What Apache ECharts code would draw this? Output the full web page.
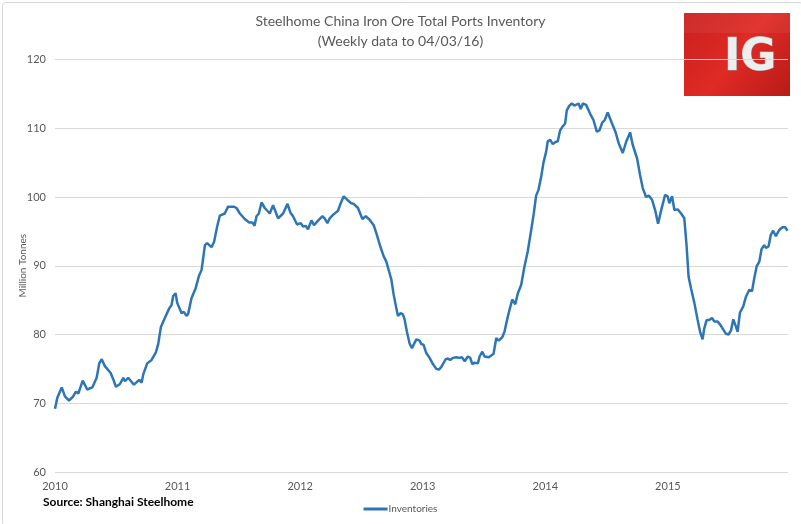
<!DOCTYPE html>
<html>
<head>
<meta charset="utf-8">
<script src="https://cdn.jsdelivr.net/npm/echarts@6/dist/echarts.min.js"></script>
<style>
html,body{margin:0;padding:0;background:#fff;}
#chart{width:801px;height:524px;}
</style>
</head>
<body>
<div id="chart"></div>
<script>
// Time in fractional years since 2010 (weekly series)
const dates = [0,0.019,0.055,0.081,0.114,0.144,0.171,0.190,0.226,0.263,0.304,0.340,0.361,0.381,0.407,0.454,0.475,0.497,0.530,0.557,0.570,0.597,0.644,0.687,0.707,0.720,0.752,0.788,0.823,0.842,0.864,0.896,0.932,0.951,0.964,0.984,0.997,1.013,1.033,1.051,1.073,1.086,1.114,1.147,1.174,1.196,1.223,1.241,1.277,1.298,1.323,1.345,1.385,1.412,1.459,1.481,1.508,1.548,1.584,1.611,1.628,1.644,1.663,1.685,1.711,1.752,1.779,1.820,1.861,1.897,1.921,1.942,1.975,2.005,2.024,2.046,2.064,2.092,2.113,2.154,2.182,2.200,2.222,2.241,2.268,2.309,2.331,2.355,2.390,2.418,2.437,2.453,2.472,2.508,2.535,2.567,2.600,2.622,2.654,2.681,2.703,2.725,2.744,2.763,2.785,2.798,2.820,2.839,2.852,2.871,2.893,2.912,2.928,2.948,2.975,2.989,3.007,3.029,3.056,3.083,3.111,3.132,3.152,3.187,3.205,3.225,3.246,3.274,3.301,3.320,3.342,3.368,3.388,3.404,3.423,3.450,3.464,3.486,3.504,3.540,3.578,3.600,3.619,3.649,3.667,3.694,3.730,3.755,3.776,3.803,3.830,3.857,3.885,3.906,3.925,3.944,3.967,3.985,4.007,4.020,4.040,4.061,4.083,4.102,4.121,4.143,4.162,4.175,4.197,4.216,4.238,4.252,4.271,4.289,4.306,4.333,4.346,4.366,4.393,4.420,4.442,4.464,4.485,4.509,4.523,4.542,4.572,4.599,4.632,4.659,4.692,4.713,4.749,4.773,4.795,4.822,4.844,4.871,4.896,4.920,4.947,4.977,4.998,5.012,5.034,5.053,5.080,5.108,5.134,5.153,5.169,5.189,5.216,5.243,5.264,5.283,5.297,5.316,5.338,5.360,5.379,5.406,5.428,5.452,5.474,5.495,5.515,5.534,5.556,5.569,5.588,5.615,5.637,5.664,5.686,5.705,5.724,5.746,5.764,5.786,5.800,5.821,5.840,5.859,5.881,5.908,5.935,5.957,5.976];
const inventories = [69.2,70.8,72.3,71.0,70.4,70.9,71.7,71.4,73.3,72.0,72.3,73.7,75.8,76.4,75.4,74.4,73.5,72.4,72.8,73.7,73.2,73.7,72.7,73.4,73.0,74.2,75.8,76.3,77.4,78.6,81.1,82.4,83.8,84.3,85.6,86.0,84.6,84.4,83.1,83.3,82.7,83.0,85.3,86.7,88.5,89.4,93.0,93.3,92.7,93.5,95.7,97.3,97.6,98.6,98.6,98.4,97.6,96.8,96.3,96.3,95.8,97.2,97.6,99.2,98.4,97.6,98.8,96.9,97.6,99.0,97.7,97.2,96.0,96.2,95.7,95.8,95.3,96.6,95.9,96.7,97.2,96.9,96.2,96.9,97.4,98.0,99.1,100.1,99.5,99.1,99.0,99.1,98.4,96.8,97.2,96.7,95.9,94.7,92.8,91.4,90.6,89.2,88.0,85.8,83.8,82.7,83.1,82.9,82.2,80.4,78.7,78.0,78.6,79.3,79.1,78.6,78.5,77.3,76.6,75.7,75.0,74.9,75.3,76.4,76.5,76.3,76.6,76.7,76.6,76.7,76.1,76.8,76.6,75.7,75.9,75.8,76.8,77.5,76.8,76.7,77.2,79.5,79.1,79.6,80.4,82.6,85.1,84.4,86.0,87.2,89.9,92.1,95.2,97.6,100.2,101.0,103.0,105.0,106.6,108.1,108.3,107.7,108.0,108.1,109.7,110.3,110.7,112.6,113.3,113.6,113.3,113.1,113.6,112.8,113.6,113.4,113.6,112.1,111.2,109.5,109.7,110.8,111.2,112.3,112.3,110.8,109.5,107.8,106.4,108.0,109.4,107.6,105.6,103.2,101.3,100.0,100.2,99.6,98.1,96.1,98.2,100.3,100.1,99.1,100.1,98.1,98.2,97.6,96.9,92.8,88.4,86.7,84.6,82.1,80.3,79.3,80.9,82.1,82.1,82.4,81.9,81.9,81.4,80.7,80.1,80.0,80.6,82.2,81.1,80.4,83.2,84.1,85.5,86.5,86.3,88.2,89.9,90.6,92.4,93.0,92.6,92.8,94.5,95.1,94.3,95.2,95.6,95.6,95.1];
const baseYear = 2010;
const yearTicks = [2010, 2011, 2012, 2013, 2014, 2015];
const titleLines = ['Steelhome China Iron Ore Total Ports Inventory', '(Weekly data to 04/03/16)'];
const seriesName = 'Inventories';
const yAxisName = 'Million Tonnes';
const sourceText = 'Source: Shanghai Steelhome';

const data = dates.map((d, i) => [baseYear + d, inventories[i]]);
const FONT = 'Lato, "Open Sans", sans-serif';
const chart = echarts.init(document.getElementById('chart'), null, {renderer: 'canvas'});
chart.setOption({
  animation: false,
  backgroundColor: '#ffffff',
  title: {
    text: titleLines.join('\n'),
    left: 'center', top: 6,
    textStyle: {fontFamily: FONT, fontSize: 14, fontWeight: 'normal', color: '#595959', lineHeight: 20}
  },
  legend: {
    bottom: 5, left: 'center',
    itemWidth: 24, itemHeight: 3,
    icon: 'rect',
    textStyle: {fontFamily: FONT, fontSize: 10, color: '#595959', padding: [0,0,0,-4]},
    data: [seriesName]
  },
  grid: {left: 55, right: 13, top: 59.5, bottom: 52, containLabel: false},
  xAxis: {
    type: 'value', min: 2010, max: 2015.98, interval: 1,
    axisLine: {show: false}, axisTick: {show: false}, splitLine: {show: false},
    axisLabel: {
      fontFamily: FONT, fontSize: 11, color: '#595959', margin: 9,
      formatter: v => (yearTicks.indexOf(Math.round(v)) >= 0 && Math.abs(v - Math.round(v)) < 1e-6) ? String(Math.round(v)) : ''
    }
  },
  yAxis: {
    type: 'value', min: 60, max: 120, interval: 10,
    name: yAxisName, nameLocation: 'middle', nameGap: 27, nameMoveOverlap: false,
    nameTextStyle: {fontFamily: FONT, fontSize: 10, color: '#595959'},
    axisLine: {show: false}, axisTick: {show: false},
    axisLabel: {fontFamily: FONT, fontSize: 11, color: '#595959', margin: 9},
    splitLine: {lineStyle: {color: '#d9d9d9', width: 1}}
  },
  series: [{
    name: seriesName, type: 'line', data: data, showSymbol: false, symbol: 'none',
    lineStyle: {color: '#2e75b6', width: 2.5}, itemStyle: {color: '#2e75b6'}
  }],
  graphic: [
    {type: 'rect', left: 0, top: 0, shape: {width: 800, height: 523, r: 3}, style: {fill: 'none', stroke: '#d9d9d9', lineWidth: 1}, silent: true, z: -1},
    {type: 'text', left: 43, top: 496, style: {text: sourceText, font: 'bold 12px ' + FONT, fill: '#000000'}},
    {type: 'group', left: 684, top: 13, children: [
      {type: 'rect', shape: {x: 0, y: 0, width: 106, height: 83}, style: {fill: new echarts.graphic.LinearGradient(0, 0, 1, 1, [{offset: 0, color: '#c8201d'}, {offset: 0.5, color: '#e02a25'}, {offset: 1, color: '#b81b18'}])}},
      {type: 'rect', shape: {x: 0, y: 0, width: 106, height: 20}, style: {fill: 'rgba(255,255,255,0.06)'}},
      {type: 'text', x: 40, y: 24, style: {text: 'IG', font: 'bold 44px "DejaVu Sans", sans-serif', fill: '#eeeeee', stroke: '#9a9a9a', lineWidth: 1}}
    ]}
  ]
});
</script>
</body>
</html>
